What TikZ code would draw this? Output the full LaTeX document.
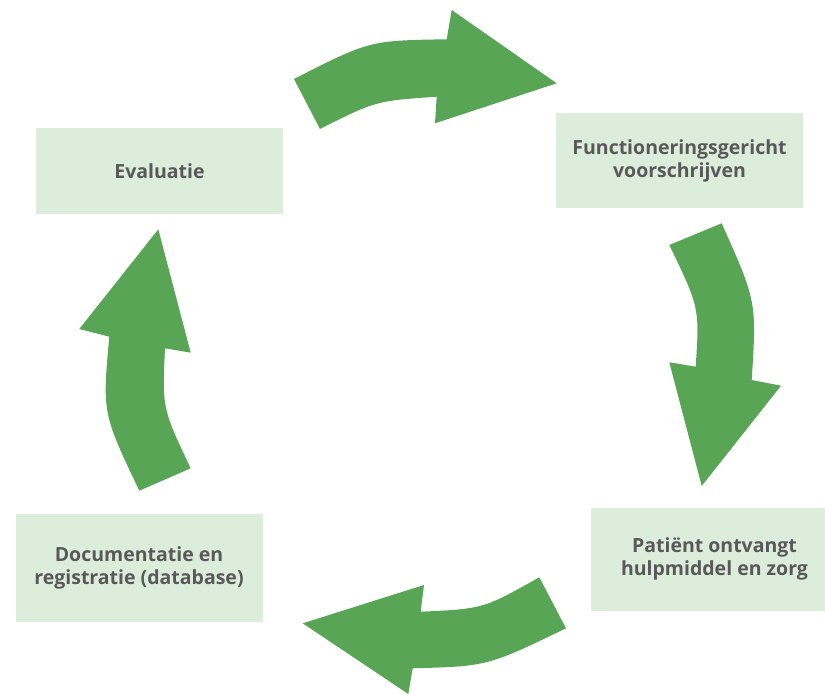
\documentclass[tikz,border=0pt]{standalone}
\usepackage{fontspec}
\setmainfont{Open Sans}
\usepackage{xcolor}
\usepackage{tikz}
\usetikzlibrary{arrows,shapes,calc}

\definecolor{boxgreen}{RGB}{221,237,220}
\definecolor{arrowgreen}{RGB}{88,166,85}
\definecolor{textgray}{RGB}{89,89,89}

\begin{document}
\begin{tikzpicture}[x=1pt, y=-1pt,
                stepbox/.style={rectangle, fill=boxgreen, text=textgray, align=center,
                  minimum width=247pt, inner sep=0pt,
                  font=\fontsize{19.5}{23}\selectfont\bfseries},
                cyclearrow/.style={fill=arrowgreen}]
		\useasboundingbox (0,0) rectangle (825,695);
		\begin{scope}
			\node [stepbox, minimum height=86pt] (eval) at (159.5,171) {Evaluatie};
			\node [stepbox, minimum height=95pt] (voorschr) at (679.5,160.5) {Functioneringsgericht\\voorschrijven};
			\node [stepbox, minimum height=103pt] (patient) at (714.5,559) {Patiënt ontvangt\\hulpmiddel en zorg};
			\node [stepbox, minimum height=108pt] (docu) at (139,568) {Documentatie en\\registratie (database)};
		\end{scope}
		% cycle arrows between the steps
		\fill [cyclearrow] (294,79) .. controls (369.5,40.5) .. (446.7,39.3) -- (451.7,10) -- (556.7,83.3)
		      -- (435,123.3) -- (436.7,96.7) .. controls (375.5,101) .. (320,129) -- cycle;
		\fill [cyclearrow] (669.3,245) -- (721.7,223.3) .. controls (756.7,301.7) .. (751.7,380) -- (781,385.7)
		      -- (701.7,486) -- (669.3,362.3) -- (695.7,366.7) .. controls (699.5,307.5) .. (669.3,245) -- cycle;
		\fill [cyclearrow] (539.3,577.3) .. controls (483.3,608.8) .. (420.7,611.7) -- (424,585) -- (302.7,623.3)
		      -- (408.3,694) -- (412.7,668.3) .. controls (487.3,666.3) .. (566,628.3) -- cycle;
		\fill [cyclearrow] (139.3,490.7) -- (190.7,468.3) .. controls (162.2,408.3) .. (165,348.3) -- (190.7,352.7)
		      -- (158.3,229.3) -- (79.3,329) -- (109.3,336.7) .. controls (102.3,413) .. (139.3,490.7) -- cycle;
\end{tikzpicture}
\end{document}
